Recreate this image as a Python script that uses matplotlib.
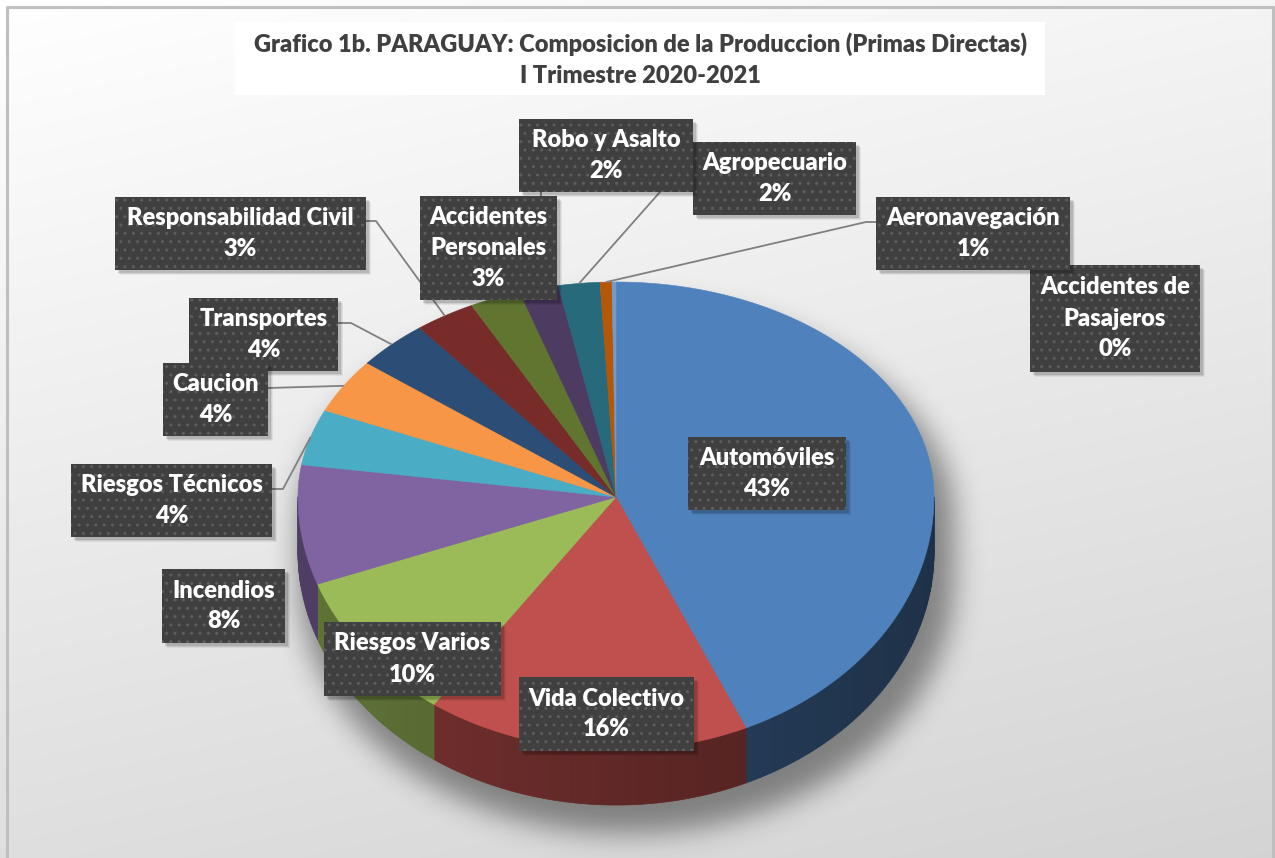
import matplotlib
matplotlib.use("Agg")
import matplotlib.pyplot as plt
import matplotlib.colors as mcolors
from matplotlib.patches import Polygon, Rectangle
from matplotlib.collections import PolyCollection
import numpy as np

plt.rcParams['font.family'] = ['Lato', 'DejaVu Sans']

title = "Grafico 1b. PARAGUAY: Composicion de la Produccion (Primas Directas)\nI Trimestre 2020-2021"

categories = ["Automóviles", "Vida Colectivo", "Riesgos Varios", "Incendios",
              "Riesgos Técnicos", "Caucion", "Transportes", "Responsabilidad Civil",
              "Accidentes Personales", "Robo y Asalto", "Agropecuario",
              "Aeronavegación", "Accidentes de Pasajeros"]
shares = [43.3, 16.4, 9.7, 8.0, 4.2, 4.1, 3.7, 3.1, 2.6, 2.0, 2.1, 0.6, 0.2]
colors = ['#4F81BD', '#C0504D', '#9BBB59', '#8064A2', '#4BACC6', '#F79646',
          '#2C4D75', '#772C2A', '#5F7530', '#4D3B62', '#276A7C', '#B65708', '#729ACA']

# label text as shown in the boxes (line breaks like the original)
label_lines = {
    "Accidentes Personales": ["Accidentes", "Personales"],
    "Accidentes de Pasajeros": ["Accidentes de", "Pasajeros"],
}

# box layout in pixels: x0, y0, x1, y1
boxes = {
    "Automóviles": (688, 437, 846, 510),
    "Vida Colectivo": (519, 677, 694, 751),
    "Riesgos Varios": (324, 622, 501, 696),
    "Incendios": (162, 569, 285, 643),
    "Riesgos Técnicos": (71, 464, 272, 537),
    "Caucion": (163, 363, 268, 436),
    "Transportes": (189, 298, 338, 371),
    "Responsabilidad Civil": (115, 197, 366, 270),
    "Accidentes Personales": (420, 196, 557, 300),
    "Robo y Asalto": (519, 119, 693, 192),
    "Agropecuario": (693, 142, 856, 215),
    "Aeronavegación": (876, 197, 1070, 270),
    "Accidentes de Pasajeros": (1030, 265, 1200, 372),
}
# leader start points on the box side (elbow first)
leaders = {
    "Responsabilidad Civil": [(366, 221), (376, 221)],
    "Transportes": [(338, 323), (351, 323)],
    "Caucion": [(268, 388)],
    "Riesgos Técnicos": [(272, 489), (283, 489)],
    "Robo y Asalto": [(541, 192)],
    "Agropecuario": [(693, 166), (683, 166)],
    "Aeronavegación": [(876, 222), (866, 222)],
}

W, H = 1275, 858
CX, CY = 616, 497
RX, RY_FAR, RY_NEAR = 318, 215, 253
DEPTH = 55


def rim(t_deg):
    t = np.radians(t_deg)
    c = np.cos(t)
    ry = np.where(c >= 0, RY_FAR, RY_NEAR)
    return CX + RX * np.sin(t), CY - ry * c


def blur(a, sigma):
    r = int(3 * sigma)
    k = np.exp(-np.arange(-r, r + 1) ** 2 / (2 * sigma ** 2))
    k /= k.sum()
    a = np.apply_along_axis(lambda m: np.convolve(m, k, mode='same'), 0, a)
    a = np.apply_along_axis(lambda m: np.convolve(m, k, mode='same'), 1, a)
    return a


fig = plt.figure(figsize=(W / 100, H / 100), dpi=100)
ax = fig.add_axes([0, 0, 1, 1])
ax.set_xlim(0, W)
ax.set_ylim(H, 0)
ax.axis('off')

# background gradient
gy, gx = np.mgrid[0:H:4, 0:W:4]
g = 1 - 0.17 * (0.75 * gy / H + 0.25 * gx / W)
ax.imshow(np.dstack([g, g, g]), extent=(0, W, H, 0), interpolation='bilinear', zorder=0)
ax.plot([7, 7, W - 2, W - 2], [H, 7, 7, H], color='#BFBFBF', lw=2.2, zorder=1)

# title box
ax.add_patch(Rectangle((235, 22), 810, 73, facecolor='white', edgecolor='none', zorder=1))
ax.text(640, 60, title, ha='center', va='center', fontsize=17, fontweight='heavy',
        color='#404040', linespacing=1.5, zorder=2)

# soft shadow under the pie
sx0, sy0 = 240, 240
sy, sx = np.mgrid[sy0:H, sx0:1020]
u = (sx - (CX + 10)) / (RX + 10)
inside = np.abs(u) <= 1
root = np.sqrt(np.clip(1 - u ** 2, 0, 1))
top = (CY + 22) - RY_FAR * root
bot = (CY + 22) + RY_NEAR * root + DEPTH + 6
mask = (inside & (sy >= top) & (sy <= bot)).astype(float)
mask = blur(mask, 14)
shadow = np.zeros(mask.shape + (4,))
shadow[..., 3] = mask * 0.42
ax.imshow(shadow, extent=(sx0, 1020, H, sy0), interpolation='bilinear', zorder=1)

# slice angles
edges = np.concatenate([[0], np.cumsum(shares)]) / np.sum(shares) * 360

# side walls (front half)
quads, qcols = [], []
for i in range(len(shares)):
    a, b = max(edges[i], 90), min(edges[i + 1], 270)
    if b <= a:
        continue
    ts = np.linspace(a, b, max(int((b - a) / 1.0) + 2, 2))
    xs, ys = rim(ts)
    base = np.array(mcolors.to_rgb(colors[i]))
    for j in range(len(ts) - 1):
        quads.append([(xs[j], ys[j]), (xs[j + 1], ys[j + 1]),
                      (xs[j + 1], ys[j + 1] + DEPTH), (xs[j], ys[j] + DEPTH)])
        f = 0.5 - 0.12 * np.sin(np.radians((ts[j] + ts[j + 1]) / 2))
        qcols.append(base * f)
ax.add_collection(PolyCollection(quads, facecolors=qcols, edgecolors=qcols,
                                 linewidths=0.6, zorder=2))

# top faces
for i in range(len(shares)):
    ts = np.linspace(edges[i], edges[i + 1], max(int(edges[i + 1] - edges[i]) * 2 + 2, 2))
    xs, ys = rim(ts)
    pts = [(CX, CY)] + list(zip(xs, ys))
    ax.add_patch(Polygon(pts, closed=True, facecolor=colors[i], edgecolor=colors[i],
                         lw=0.4, zorder=3))

# leader lines
for name, pts in leaders.items():
    i = categories.index(name)
    mx, my = rim((edges[i] + edges[i + 1]) / 2)
    xs = [p[0] for p in pts] + [float(mx)]
    ys = [p[1] for p in pts] + [float(my)]
    ax.plot(xs, ys, color='#808080', lw=1.3, zorder=4, solid_capstyle='butt')

# label boxes
total = np.sum(shares)
order = ["Agropecuario", "Robo y Asalto", "Responsabilidad Civil", "Accidentes Personales",
         "Transportes", "Caucion", "Riesgos Técnicos", "Incendios", "Riesgos Varios",
         "Vida Colectivo", "Automóviles", "Accidentes de Pasajeros", "Aeronavegación"]
for k, name in enumerate(order):
    i = categories.index(name)
    x0, y0, x1, y1 = boxes[name]
    z = 5 + k * 0.1
    for d, al in [(5, 0.06), (4, 0.08), (3, 0.12)]:
        ax.add_patch(Rectangle((x0 + d, y0 + d), x1 - x0, y1 - y0, facecolor='black',
                               edgecolor='none', alpha=al, zorder=z))
    ax.add_patch(Rectangle((x0, y0), x1 - x0, y1 - y0, facecolor='#404040',
                           edgecolor='#5E5E5E', lw=0, hatch='..', zorder=z + 0.01))
    lines = label_lines.get(name, [name]) + ["%d%%" % round(shares[i] / total * 100)]
    cy = (y0 + y1) / 2
    n = len(lines)
    for j, s in enumerate(lines):
        ax.text((x0 + x1) / 2, cy + (j - (n - 1) / 2) * 31, s, ha='center', va='center',
                fontsize=17, fontweight='heavy', color='white', zorder=z + 0.02)

fig.savefig("out.png", dpi=100)
